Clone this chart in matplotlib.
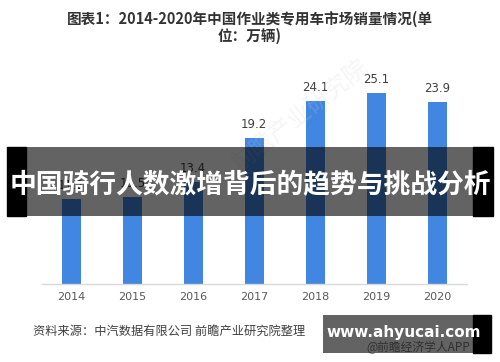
import matplotlib
matplotlib.use("Agg")
import matplotlib.pyplot as plt
from matplotlib.patches import Rectangle

years = ["2014", "2015", "2016", "2017", "2018", "2019", "2020"]
sales = [11.2, 11.5, 13.4, 19.2, 24.1, 25.1, 23.9]
value_labels = ["11.2", "11.5", "13.4", "19.2", "24.1", "25.1", "23.9"]
title = "图表1：2014-2020年中国作业类专用车市场销量情况(单\n位：万辆)"
banner = "中国骑行人数激增背后的趋势与挑战分析"
source = "资料来源：中汽数据有限公司 前瞻产业研究院整理"
site = "www.ahyucai.com"
app = "@前瞻经济学人APP"

plt.rcParams['font.family'] = ['Noto Sans CJK SC', 'DejaVu Sans']

W, H = 500, 362
fig = plt.figure(figsize=(5, 3.62), dpi=100)

def fx(px):
    return px / W

def fy(py):
    return (H - py) / H

ax = fig.add_axes([fx(42), fy(284), fx(467) - fx(42), fy(56) - fy(284)])
x = list(range(len(years)))
bars = ax.bar(x, sales, width=0.31, color="#4186e0", zorder=2)
for xi, v, lab in zip(x, sales, value_labels):
    ax.annotate(lab, (xi, v), xytext=(0, 5), textcoords="offset points",
                ha="center", va="bottom", fontsize=8.5, color="#404040",
                family=['DejaVu Sans'])
ax.set_xlim(-0.48, 6.49)
ax.set_ylim(0, 30)
ax.set_xticks(x)
ax.set_xticklabels(years, fontsize=8, color="#595959", family=['DejaVu Sans'])
ax.tick_params(axis="x", length=0, pad=6)
ax.set_yticks([])
for s in ["top", "right", "left"]:
    ax.spines[s].set_visible(False)
ax.spines["bottom"].set_color("#d9d9d9")
ax.spines["bottom"].set_linewidth(1.0)

# faint watermark
fig.text(fx(300), fy(115), "前瞻产业研究院", rotation=38, fontsize=17,
         color="#c8cdd6", alpha=0.2, ha="center", va="center", zorder=1)

fig.text(0.5, fy(27), title, ha="center", va="center", fontsize=10.5,
         fontweight="bold", color="#333333", linespacing=1.05)

# banner overlay
fig.add_artist(Rectangle((fx(7), fy(216)), fx(26) - fx(7), fy(147) - fy(216),
                         transform=fig.transFigure, color="black", zorder=5))
fig.add_artist(Rectangle((fx(473), fy(216)), fx(493) - fx(473), fy(147) - fy(216),
                         transform=fig.transFigure, color="black", zorder=5))
fig.add_artist(Rectangle((fx(26), fy(216)), fx(473) - fx(26), fy(147) - fy(216),
                         transform=fig.transFigure, color="black", alpha=0.61,
                         linewidth=0, zorder=5))
fig.text(0.5, fy(185), banner, ha="center", va="center", fontsize=19.3,
         fontweight="bold", color="white", zorder=6)

fig.text(fx(33), fy(331), source, ha="left", va="center", fontsize=8.8,
         color="#404040")

# bottom site box
fig.text(fx(418), fy(347), app, ha="center", va="center", fontsize=8.5,
         color="#7a7a7a", zorder=4)
fig.add_artist(Rectangle((fx(323), fy(353)), fx(473) - fx(323), fy(315) - fy(353),
                         transform=fig.transFigure, color="black", alpha=0.61,
                         linewidth=0, zorder=5))
fig.add_artist(Rectangle((fx(473), fy(353)), fx(491) - fx(473), fy(315) - fy(353),
                         transform=fig.transFigure, color="black", zorder=5))
fig.text(fx(404), fy(333), site, ha="center", va="center", fontsize=11,
         fontweight="bold", color="white", zorder=6, family=['DejaVu Sans'])

fig.savefig("out.png", dpi=100)
